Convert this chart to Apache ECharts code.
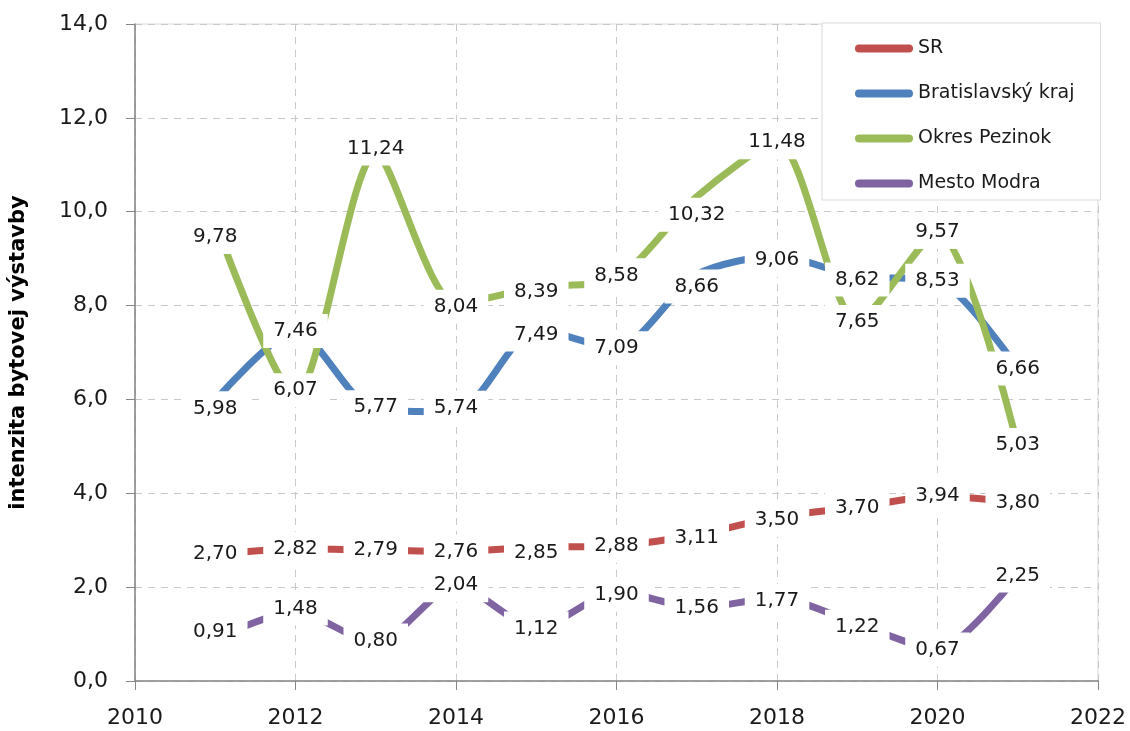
<!DOCTYPE html>
<html>
<head>
<meta charset="utf-8">
<script src="https://cdn.jsdelivr.net/npm/echarts@6/dist/echarts.min.js"></script>
<style>
  html, body { margin: 0; padding: 0; background: #fff; }
  #chart { width: 1130px; height: 731px; }
</style>
</head>
<body>
<div id="chart"></div>
<script>
// roky a hodnoty intenzity bytovej výstavby
const years = [2011, 2012, 2013, 2014, 2015, 2016, 2017, 2018, 2019, 2020, 2021]
const sr = [2.70, 2.82, 2.79, 2.76, 2.85, 2.88, 3.11, 3.50, 3.70, 3.94, 3.80]
const bratislava = [5.98, 7.46, 5.77, 5.74, 7.49, 7.09, 8.66, 9.06, 8.62, 8.53, 6.66]
const pezinok = [9.78, 6.07, 11.24, 8.04, 8.39, 8.58, 10.32, 11.48, 7.65, 9.57, 5.03]
const modra = [0.91, 1.48, 0.80, 2.04, 1.12, 1.90, 1.56, 1.77, 1.22, 0.67, 2.25]
const seriesNames = ['SR', 'Bratislavský kraj', 'Okres Pezinok', 'Mesto Modra']
const yTicks = [0, 2, 4, 6, 8, 10, 12, 14]
const xTicks = [2010, 2012, 2014, 2016, 2018, 2020, 2022]

// posun popiskov (px, zvisle) – mimo dát
const srShift = [0, 0, 0, 0, 6, 0, 3, 3, 0, 0, 0]
const bratislavaShift = [8, 0, -3, -4, 5, 0, 12, 4, 3, 0, 0]
const pezinokShift = [15, -6, -5, 3, 5, -3, 18, 0, 0, 0, 0]
const modraShift = [-6, -3, -3, 0, 0, 3, 0, 3, 3, 0, 0]

const colors = ['#C0504D', '#4F81BD', '#9BBB59', '#8064A2']
const font = 'DejaVu Sans'

const fmt = (v) => v.toFixed(2).replace('.', ',')

const buildSeries = (name, values, shifts, color) => ({
  name: name,
  type: 'line',
  smooth: 0.25,
  symbol: 'circle',
  symbolSize: 1,
  showSymbol: true,
  lineStyle: { width: 7, color: color, cap: 'butt' },
  itemStyle: { color: color },
  data: values.map((v, i) => [years[i], v]),
  label: {
    show: true,
    position: 'inside',
    formatter: (p) => fmt(p.value[1]),
    fontFamily: font,
    fontSize: 20,
    color: '#1a1a1a',
    backgroundColor: '#fff',
    padding: [7, 10]
  },
  labelLayout: (params) => ({ dy: shifts[params.dataIndex], hideOverlap: false }),
  emphasis: { disabled: true }
})

const chart = echarts.init(document.getElementById('chart'))
chart.setOption({
  backgroundColor: '#fff',
  animation: false,
  grid: {
    left: 135, right: 32, top: 24, bottom: 50,
    show: true, borderColor: '#d9d9d9', borderWidth: 1
  },
  legend: {
    orient: 'vertical',
    left: 822,
    top: 23,
    padding: [16, 26, 7, 33],
    itemGap: 26,
    itemWidth: 58,
    itemHeight: 8,
    backgroundColor: '#fff',
    borderColor: '#d9d9d9',
    borderWidth: 1,
    icon: 'path://M4,0 L54,0 A4,4 0 0 1 54,8 L4,8 A4,4 0 0 1 4,0 Z',
    textStyle: { fontFamily: font, fontSize: 19, color: '#1a1a1a' },
    data: seriesNames
  },
  xAxis: {
    type: 'value',
    min: 2010,
    max: 2022,
    interval: 2,
    axisLine: { show: true, onZero: false, lineStyle: { color: '#868686', width: 1.5 } },
    axisTick: { show: true, length: 9, lineStyle: { color: '#868686' } },
    axisLabel: {
      margin: 26,
      fontFamily: font,
      fontSize: 22,
      color: '#1a1a1a',
      formatter: (v) => (xTicks.includes(v) ? String(v) : '')
    },
    splitLine: { show: true, lineStyle: { color: '#c8c8c8', type: [7, 6] } }
  },
  yAxis: {
    type: 'value',
    min: 0,
    max: 14,
    interval: 2,
    name: 'intenzita bytovej výstavby',
    nameLocation: 'middle',
    nameGap: 106,
    nameTextStyle: { fontFamily: font, fontSize: 21, fontWeight: 'bold', color: '#000' },
    axisLine: { show: true, lineStyle: { color: '#868686', width: 1.5 } },
    axisTick: { show: true, length: 9, lineStyle: { color: '#868686' } },
    axisLabel: {
      margin: 27,
      fontFamily: font,
      fontSize: 22,
      color: '#1a1a1a',
      formatter: (v) => (yTicks.includes(v) ? v.toFixed(1).replace('.', ',') : '')
    },
    splitLine: { show: true, lineStyle: { color: '#c8c8c8', type: [7, 6] } }
  },
  series: [
    buildSeries(seriesNames[0], sr, srShift, colors[0]),
    buildSeries(seriesNames[1], bratislava, bratislavaShift, colors[1]),
    buildSeries(seriesNames[2], pezinok, pezinokShift, colors[2]),
    buildSeries(seriesNames[3], modra, modraShift, colors[3])
  ]
})
</script>
</body>
</html>
